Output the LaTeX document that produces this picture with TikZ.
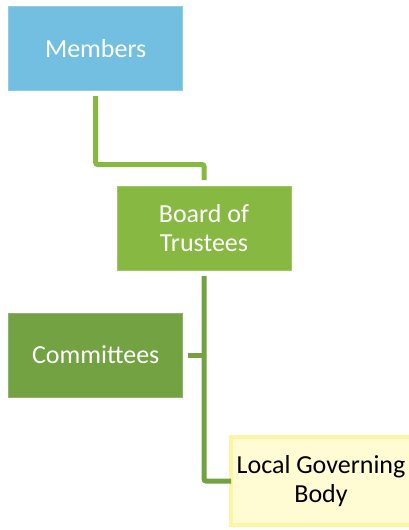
\documentclass[tikz,border=0pt]{standalone}
\usepackage{fontspec}
\setmainfont{Carlito}
\definecolor{memblue}{HTML}{72BFE1}
\definecolor{brdgreen}{HTML}{87B841}
\definecolor{comgreen}{HTML}{73A242}
\definecolor{locfill}{HTML}{FFFBD3}
\definecolor{locline}{HTML}{FFF4A3}
\begin{document}
\begin{tikzpicture}[x=1pt, y=-1pt,
		orgbox/.style={minimum width=174pt, minimum height=84pt, inner sep=0pt, outer sep=0pt, align=center, font=\fontsize{26}{29}\selectfont},
		conn/.style={line width=5pt, rounded corners=2pt}
	]
	\useasboundingbox (0,0) rectangle (408,530);

	\node[orgbox, fill=memblue, draw=memblue!80!white, line width=0.8pt, text=white] (mem) at (95.7,48.7) {Members};
	\node[orgbox, fill=brdgreen, draw=brdgreen!80!white, line width=0.8pt, text=white] (brd) at (204,228) {Board of\\Trustees};
	\node[orgbox, fill=comgreen, draw=comgreen!80!white, line width=0.8pt, text=white] (com) at (95.7,355) {Committees};
	\node[orgbox, fill=locfill, draw=locline, line width=4pt, text=black, minimum width=180pt, minimum height=88pt] (loc) at (321,481) {Local Governing\\Body};

	\coordinate (j1) at (0,164.5);

	\draw[conn, brdgreen, shorten <=5.5pt, shorten >=6pt] (mem.south) |- (j1 -| brd.north) -- (brd.north);
	\draw[conn, comgreen, shorten <=6pt] (brd.south) |- (loc.west);
	\draw[conn, comgreen, shorten <=5pt] (com.east) -- (com.east -| brd.south);
\end{tikzpicture}
\end{document}
